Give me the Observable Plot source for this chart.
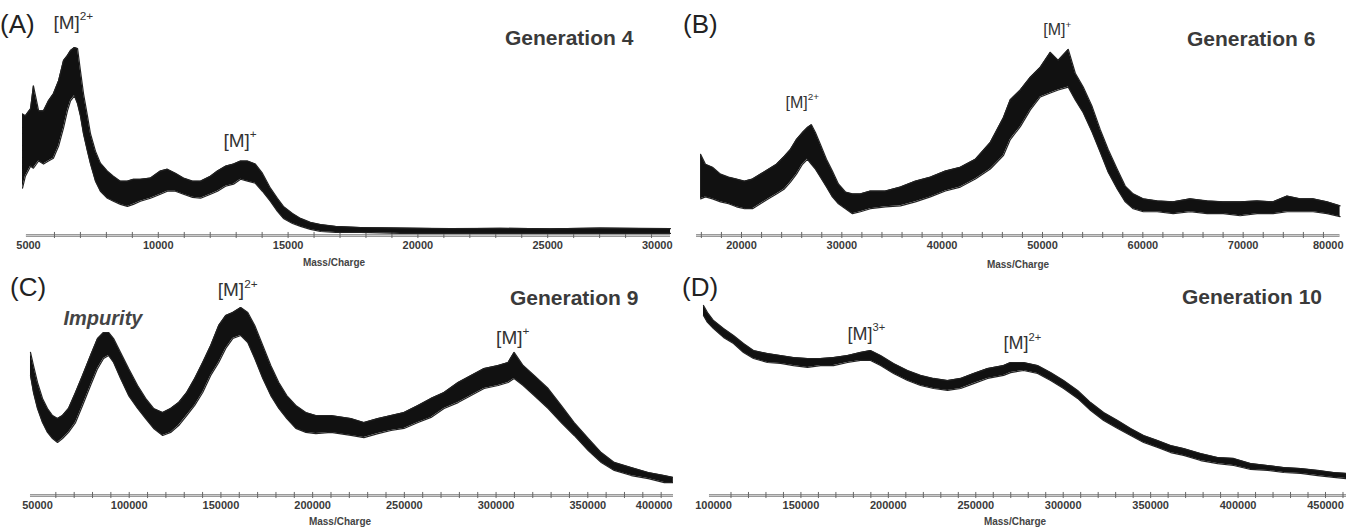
<!DOCTYPE html>
<html><head><meta charset="utf-8">
<script src="https://cdn.jsdelivr.net/npm/d3@7"></script>
<script src="https://cdn.jsdelivr.net/npm/@observablehq/plot@0.6"></script>
<style>
body{margin:0;background:#fff;font-family:"Liberation Sans",Arial,sans-serif;}
#wrap{position:relative;width:1346px;height:530px;overflow:hidden;background:#fff;}
.panel{position:absolute;width:673px;height:265px;overflow:hidden;}
.panel svg{max-width:none !important;}
.letter{position:absolute;font-size:26px;line-height:26px;color:#222;}
.gen{position:absolute;font-size:21px;line-height:21px;font-weight:bold;color:#3a3a3a;}
.xlab{position:absolute;font-size:10px;line-height:12px;font-weight:bold;color:#444;transform:translateX(-50%);}
</style></head><body><div id="wrap"></div>
<script>
// ---------- Panel A : Generation 4 ----------
const massA = [4770,4880,5080,5190,5390,5580,5770,5960,6160,6350,6500,6620,6770,6890,7000,7120,7270,7390,7580,7770,8040,8270,8540,8810,9040,9310,9700,10080,10350,10660,10970,11320,11630,12010,12280,12590,12900,13170,13440,13740,14010,14320,14590,14820,15170,15480,15860,16250,16830,17790,19330,21250,23180,25110,27030,28570,29730];
const hiA = [64.0,63.0,66.7,78.8,65.6,65.6,70.9,74.6,81.5,92.1,94.7,97.4,98.9,98.4,86.8,74.6,63.0,53.4,44.4,38.1,33.9,31.2,28.6,28.6,29.6,29.6,30.2,33.9,34.9,32.8,30.2,28.6,28.6,31.2,33.9,36.5,37.6,39.2,39.2,37.6,32.8,24.9,19.6,15.3,11.6,9.0,6.9,5.8,4.8,4.2,3.9,3.6,3.8,3.5,3.9,3.7,3.6];
const loA = [24.9,31.2,36.5,35.4,39.2,37.6,39.2,40.7,47.1,56.6,65.6,70.9,73.5,69.3,63.0,53.4,44.4,37.6,28.6,23.3,19.6,18.0,16.4,15.3,16.4,18.0,19.6,21.7,23.3,23.3,21.7,20.1,19.6,21.7,23.3,25.9,27.0,29.6,28.6,27.5,23.3,18.0,12.7,9.0,6.3,4.8,3.2,2.1,1.6,1.6,1.1,1.1,1.1,1.1,1.1,1.1,1.1];
const ticksA = [5000,10000,15000,20000,25000,30000];
const annA = [{m:5960,i:112,t:"[M]^2+"},{m:12510,i:50,t:"[M]^+"}];

// ---------- Panel B : Generation 6 ----------
const massB = [15920,16410,17110,17910,18710,19500,20300,21100,21890,22690,23490,24280,24880,25480,26080,26570,26970,27370,27870,28470,29060,29660,30360,31060,31850,32850,34340,35840,37330,38820,40320,41810,43310,44800,46100,46790,47790,48790,49780,50780,51570,52570,53270,54060,54960,55760,56550,57450,58250,59040,60040,61430,63030,64720,66410,68010,69700,71390,72990,74380,75680,76970,78370,79660];
const hiB = [42.7,37.5,35.9,32.3,30.7,29.7,28.6,29.7,32.3,34.9,37.5,41.7,45.3,50.5,54.2,56.8,58.3,54.2,47.9,40.1,33.9,27.1,22.9,21.9,21.9,23.4,23.4,25.5,28.6,30.7,33.9,35.9,40.1,49.0,62.0,71.4,76.6,83.3,88.5,96.4,92.2,97.9,85.4,78.1,67.7,55.7,45.3,34.9,26.0,21.9,19.3,18.2,17.7,19.3,18.2,17.7,17.7,18.2,17.7,20.8,19.3,19.3,17.7,15.6];
const loB = [19.3,20.3,19.3,17.7,16.7,15.1,14.1,14.1,16.7,19.3,21.9,24.5,28.1,32.3,37.5,40.1,37.5,34.9,30.7,25.5,20.3,16.7,14.1,11.5,12.5,14.1,15.1,15.6,17.7,20.3,23.4,25.5,29.7,35.0,42.0,50.5,57.3,66.1,72.9,75.0,76.6,78.1,71.4,64.6,54.2,43.8,33.3,24.5,17.7,14.1,12.5,12.5,11.5,12.5,11.5,11.5,10.4,11.5,11.5,12.5,12.5,12.5,11.5,9.9];
const ticksB = [20000,30000,40000,50000,60000,70000,80000];
const annB = [{m:24380,i:70,t:"[M]^2+"},{m:50080,i:108,t:"[M]^+"}];

// ---------- Panel C : Generation 9 ----------
const massC = [46180,47820,50000,52730,55460,58190,60920,63650,66920,70740,74570,78930,82750,86030,88760,91490,95310,99680,104590,108960,113320,118240,122600,126970,131340,135710,140070,144440,148810,152630,156450,160820,164640,168460,172830,177200,181560,185930,190840,196300,201760,210000,220870,227970,235600,242700,249800,257440,264540,271640,279280,286380,293470,301110,306570,309850,314760,320770,328410,335510,342600,350250,357340,364440,373720,383000,391730,396650];
const hiC = [75.3,68.4,59.5,51.1,45.8,42.1,40.5,42.1,45.8,54.2,63.2,73.7,82.6,85.8,85.8,82.6,75.3,66.8,57.9,51.1,45.8,43.7,45.8,48.9,54.2,61.6,70.0,78.9,89.5,94.7,96.3,98.9,96.3,89.5,78.9,68.4,59.5,52.6,47.4,43.7,42.1,42.1,40.5,38.4,40.5,42.1,43.7,47.4,51.1,54.2,59.5,63.2,66.8,68.4,70.0,75.3,68.4,63.2,56.3,47.4,38.4,30.0,22.6,17.4,14.7,12.1,10.5,9.5];
const loC = [63.2,54.2,45.8,38.4,33.2,30.0,27.9,30.0,33.2,38.4,47.4,57.9,66.8,72.1,73.7,70.0,61.6,52.6,45.8,40.5,35.3,31.6,33.2,36.8,42.1,47.4,54.2,63.2,70.0,77.4,82.6,84.2,80.5,72.1,61.6,52.6,45.8,40.5,35.3,33.2,32.6,33.2,31.6,30.5,32.6,34.2,35.3,38.4,41.1,45.8,48.9,52.6,56.3,57.9,59.5,61.6,57.9,52.6,45.8,38.4,31.6,23.7,17.4,13.2,10.5,8.9,6.8,6.8];
const ticksC = [50000,100000,150000,200000,250000,300000,350000,400000];
const annC = [{m:148260,i:108,t:"[M]^2+"},{m:300020,i:83,t:"[M]^+"}];
const impurityC = [{m:64190,i:93,t:"Impurity"}];

// ---------- Panel D : Generation 10 ----------
const massD = [94280,96570,100000,105720,111440,117160,122880,130890,138330,145770,153770,161210,168650,176660,184100,189820,195540,202980,210990,218420,225860,233870,241310,248750,256760,265910,269910,277350,285360,292800,300240,308250,315690,323130,331130,338570,346000,354010,361450,368890,378610,388340,397490,407210,416940,426090,435820,445550,454700,462140];
const hiD = [100,96.3,92.1,87.9,84.2,80.0,76.3,74.7,73.7,72.6,72.1,72.1,72.6,73.7,75.3,76.3,73.7,69.5,65.8,63.2,61.6,60.5,61.6,64.2,66.8,68.4,70.0,70.0,68.4,64.7,60.5,55.3,48.9,43.7,39.5,35.3,31.6,28.9,26.3,24.7,22.1,20.0,19.5,16.8,15.8,14.7,14.2,13.2,12.1,11.6];
const loD = [94.7,91.1,87.9,83.2,80.0,75.3,72.1,70.0,69.5,68.4,67.4,68.4,68.4,70.0,71.1,71.1,68.4,64.2,60.5,57.9,56.3,55.3,56.3,58.9,61.6,63.2,64.7,65.8,64.2,60.5,56.3,51.1,44.7,39.5,35.3,31.6,27.9,25.3,22.6,21.1,18.4,16.8,15.8,13.7,13.2,12.1,11.6,10.5,9.5,8.9];
const ticksD = [100000,150000,200000,250000,300000,350000,400000,450000];
const annD = [{m:176660,i:85,t:"[M]^3+"},{m:265910,i:80,t:"[M]^2+"}];

const titles = ["Generation 4","Generation 6","Generation 9","Generation 10"];
const letters = ["(A)","(B)","(C)","(D)"];

function range(a, b, s){ const r=[]; for(let v=a; v<=b; v+=s) r.push(v); return r; }

function supify(svg){
  svg.querySelectorAll("text").forEach(t=>{
    const s = t.textContent;
    if(!s.includes("^")) return;
    const [base, sup] = s.split("^");
    t.textContent = "";
    const a = document.createElementNS("http://www.w3.org/2000/svg","tspan");
    a.textContent = base;
    const b = document.createElementNS("http://www.w3.org/2000/svg","tspan");
    b.textContent = sup;
    b.setAttribute("font-size","62%");
    b.setAttribute("dy","-0.75em");
    t.append(a,b);
  });
}

function panel(o){
  const data = o.mass.map((m,i)=>({m, lo:o.lo[i], hi:o.hi[i]}));
  const inner = o.ticks.slice(0,-1), last = o.ticks.slice(-1);
  const axisOpts = {tickSize:0, tickPadding:6, tickFormat:d=>String(d), fontSize:11, fontWeight:"bold", fill:"#3a3a3a", label:null};
  const marks = [
    Plot.ruleY([0], {x1:o.axisFrom, x2:o.axisTo, stroke:"#9a9a9a", strokeWidth:3}),
    Plot.ruleY([0], {x1:o.axisFrom, x2:o.axisTo, stroke:"#d8d8d8", strokeWidth:0.8}),
    Plot.ruleX(o.minor, {x:d=>d, y1:-1.6, y2:1.6, stroke:"#666", strokeWidth:1}),
    Plot.axisX({ticks:inner, ...axisOpts}),
    Plot.axisX({ticks:last, ...axisOpts, textAnchor:o.lastAnchor, dx:o.lastDx}),
    Plot.areaY(data, {x:"m", y1:"lo", y2:"hi", fill:"#111"}),
    Plot.line(data, {x:"m", y:"hi", stroke:"#222", strokeWidth:1.2}),
    Plot.line(data, {x:"m", y:"lo", stroke:"#222", strokeWidth:1.2}),
    Plot.text(o.ann, {x:"m", y:"i", text:"t", textAnchor:"start", fontSize:o.annSize, fill:"#333"})
  ];
  if(o.extra) marks.push(...o.extra);
  const svg = Plot.plot({
    width:700, height:265,
    marginLeft:o.mL, marginRight:700-o.mL-o.span, marginTop:o.mT, marginBottom:o.mB,
    x:{domain:o.domain, axis:null},
    y:{domain:[0,100], axis:null},
    style:{fontFamily:"'Liberation Sans', Arial, sans-serif", background:"transparent"},
    marks
  });
  supify(svg);
  const div = document.createElement("div");
  div.className = "panel";
  div.style.left = o.left+"px"; div.style.top = o.top+"px";
  div.append(svg);
  document.getElementById("wrap").append(div);
}

panel({left:0, top:0, mass:massA, lo:loA, hi:hiA, domain:[5000,30000], mL:28, span:649, mT:45, mB:30,
  axisFrom:4920, axisTo:29730, ticks:ticksA, lastAnchor:"end", lastDx:-5, minor:range(6000,29000,1000), ann:annA, annSize:19});
panel({left:673, top:0, mass:massB, lo:loB, hi:hiB, domain:[20000,80000], mL:68, span:602, mT:45, mB:30,
  axisFrom:15520, axisTo:79650, ticks:ticksB, lastAnchor:"end", lastDx:0, minor:range(16000,78000,2000), ann:annB, annSize:16});
panel({left:0, top:265, mass:massC, lo:loC, hi:hiC, domain:[50000,400000], mL:37, span:642, mT:40, mB:35,
  axisFrom:46180, axisTo:400000, ticks:ticksC, lastAnchor:"end", lastDx:-7, minor:range(60000,390000,10000), ann:annC, annSize:19,
  extra:[Plot.text(impurityC, {x:"m", y:"i", text:"t", textAnchor:"start", fontSize:20, fontStyle:"italic", fontWeight:"bold", fill:"#444"})]});
panel({left:673, top:265, mass:massD, lo:loD, hi:hiD, domain:[100000,450000], mL:40, span:612, mT:40, mB:35,
  axisFrom:97700, axisTo:466000, ticks:ticksD, lastAnchor:"middle", lastDx:0, minor:range(110000,460000,10000), ann:annD, annSize:18});

// overlays: panel letters, titles, axis labels
const wrap = document.getElementById("wrap");
const letterPos = [[0,11],[683,11],[10,274],[682,274]];
const titlePos = [[505,27],[1187,28],[510,287],[1182,286]];
const xlabPos = [[334,257],[1018,259],[340,516],[1015,516]];
letters.forEach((t,k)=>{ const d=document.createElement("div"); d.className="letter"; d.textContent=t; d.style.left=letterPos[k][0]+"px"; d.style.top=letterPos[k][1]+"px"; wrap.append(d); });
titles.forEach((t,k)=>{ const d=document.createElement("div"); d.className="gen"; d.textContent=t; d.style.left=titlePos[k][0]+"px"; d.style.top=titlePos[k][1]+"px"; wrap.append(d); });
xlabPos.forEach((p)=>{ const d=document.createElement("div"); d.className="xlab"; d.textContent="Mass/Charge"; d.style.left=p[0]+"px"; d.style.top=p[1]+"px"; wrap.append(d); });
</script>
</body></html>
